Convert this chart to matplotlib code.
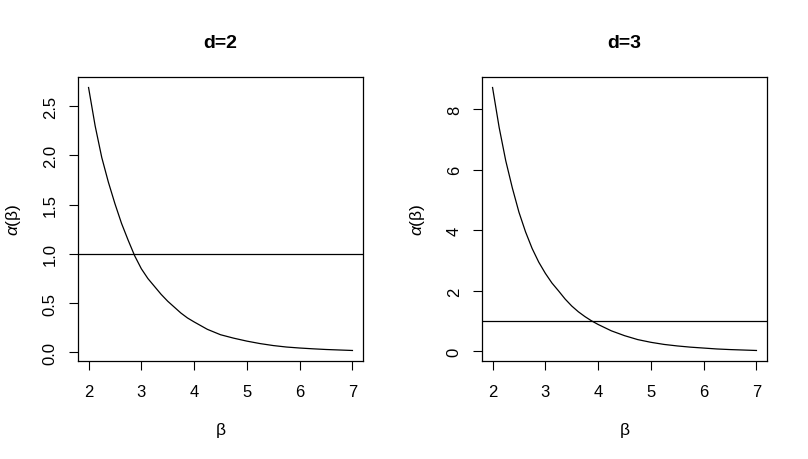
import matplotlib
matplotlib.use("Agg")
import matplotlib.pyplot as plt

plt.rcParams['font.family'] = ['Liberation Sans', 'DejaVu Sans']
plt.rcParams['mathtext.fontset'] = 'custom'
plt.rcParams['mathtext.it'] = 'Liberation Sans:italic'
plt.rcParams['mathtext.rm'] = 'Liberation Sans'

# beta values (x) and alpha(beta)
beta_d2 = [2.0, 2.125, 2.25, 2.375, 2.5, 2.625, 2.75, 2.875, 3.0, 3.125, 3.25, 3.375, 3.5,
           3.625, 3.75, 3.875, 4.0, 4.25, 4.5, 4.75, 5.0, 5.25, 5.5, 5.75, 6.0, 6.25, 6.5, 6.75, 7.0]
alpha_d2 = [2.69, 2.30, 1.98, 1.73, 1.51, 1.31, 1.14, 0.98, 0.85, 0.75, 0.67, 0.59, 0.52,
            0.46, 0.40, 0.35, 0.31, 0.235, 0.18, 0.145, 0.115, 0.09, 0.07, 0.055, 0.045, 0.037, 0.03, 0.025, 0.02]

beta_d3 = [2.0, 2.125, 2.25, 2.375, 2.5, 2.625, 2.75, 2.875, 3.0, 3.125, 3.25, 3.375, 3.5,
           3.625, 3.75, 3.875, 4.0, 4.25, 4.5, 4.75, 5.0, 5.25, 5.5, 5.75, 6.0, 6.25, 6.5, 6.75, 7.0]
alpha_d3 = [8.72, 7.4, 6.3, 5.4, 4.6, 3.95, 3.4, 2.95, 2.58, 2.26, 2.0, 1.73, 1.5,
            1.31, 1.15, 1.01, 0.89, 0.68, 0.52, 0.39, 0.30, 0.23, 0.18, 0.14, 0.11, 0.08, 0.06, 0.045, 0.03]

titles = ["d=2", "d=3"]
ref_level = 1.0
xticks = [2, 3, 4, 5, 6, 7]
yticks_d2 = [0.0, 0.5, 1.0, 1.5, 2.0, 2.5]
yticklabels_d2 = ["0.0", "0.5", "1.0", "1.5", "2.0", "2.5"]
yticks_d3 = [0, 2, 4, 6, 8]
yticklabels_d3 = ["0", "2", "4", "6", "8"]

W, H = 808, 460
fig = plt.figure(figsize=(W / 100, H / 100), dpi=100)

def make_ax(left_px):
    return fig.add_axes([left_px / W, (H - 362) / H, 285 / W, 284 / H])

panels = [
    (78, beta_d2, alpha_d2, yticks_d2, yticklabels_d2, titles[0]),
    (482, beta_d3, alpha_d3, yticks_d3, yticklabels_d3, titles[1]),
]

for left, xs, ys, yt, ytl, title in panels:
    ax = make_ax(left)
    ax.plot(xs, ys, color='black', lw=0.9)
    ax.axhline(ref_level, color='black', lw=0.9)
    xr = max(xs) - min(xs)
    ax.set_xlim(min(xs) - 0.04 * xr, max(xs) + 0.04 * xr)
    yr = max(ys) - min(ys)
    ax.set_ylim(min(ys) - 0.04 * yr, max(ys) + 0.04 * yr)
    ax.set_xticks(xticks)
    ax.set_xticklabels([str(t) for t in xticks])
    ax.set_yticks(yt)
    ax.set_yticklabels(ytl, rotation=90, va='center')
    ax.tick_params(direction='out', length=6.5, width=0.8, pad=8, labelsize=12, colors='black')
    ax.tick_params(axis='x', pad=10)
    for s in ax.spines.values():
        s.set_linewidth(0.9)
    ax.set_xlabel(r'$\mathrm{\beta}$', fontsize=12.5, labelpad=15)
    ax.set_ylabel(r'$\alpha(\mathrm{\beta})$', fontsize=12.5, labelpad=14)
    ax.set_title(title, fontsize=14, fontweight='bold', pad=21.5)

fig.savefig("out.png", dpi=100)
